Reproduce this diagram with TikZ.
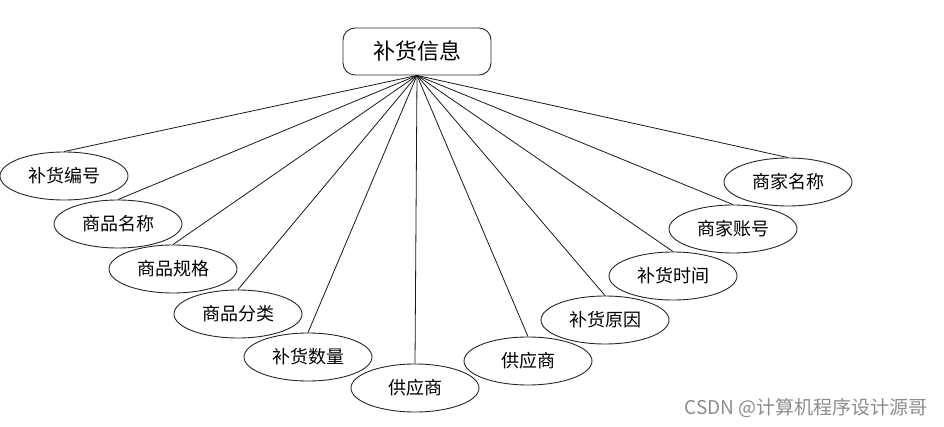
\documentclass[tikz,border=0pt]{standalone}
\usepackage{fontspec}
\newfontfamily\cjk{Noto Sans CJK SC}
\usetikzlibrary{shapes.geometric}
\begin{document}
\begin{tikzpicture}[x=1pt,y=-1pt,
  attr/.style={draw=black!85, line width=0.9pt, ellipse, minimum width=128pt, minimum height=48pt, inner sep=0pt, font=\cjk\fontsize{18}{18}\selectfont},
  entity/.style={draw=black!85, line width=0.9pt, rounded corners=12pt, minimum width=148pt, minimum height=47pt, inner sep=0pt, font=\cjk\fontsize{22}{22}\selectfont},
  link/.style={draw=black!90, line width=0.8pt}]
\useasboundingbox (0,0) rectangle (944,427);
\node[entity] (root) at (417,51.5) {补货信息};
\node[attr] (a1) at (64,176) {补货编号};
\node[attr] (a2) at (118,224) {商品名称};
\node[attr] (a3) at (173,269) {商品规格};
\node[attr] (a4) at (238,314) {商品分类};
\node[attr] (a5) at (308,357) {补货数量};
\node[attr] (a6) at (415,388) {供应商};
\node[attr] (a7) at (528,361) {供应商};
\node[attr] (a8) at (605,320) {补货原因};
\node[attr] (a9) at (673,276) {补货时间};
\node[attr] (a10) at (733,229) {商家账号};
\node[attr] (a11) at (788,182) {商家名称};
\foreach \n in {a1,a2,a3,a4,a5,a6,a7,a8,a9,a10,a11}
  \draw[link] (root.south) -- (\n.north);
\node[font=\cjk\fontsize{19}{19}\selectfont, text=black!45, anchor=east, inner sep=0pt] (wm) at (928,408) {CSDN @计算机程序设计源哥};
\end{tikzpicture}
\end{document}
